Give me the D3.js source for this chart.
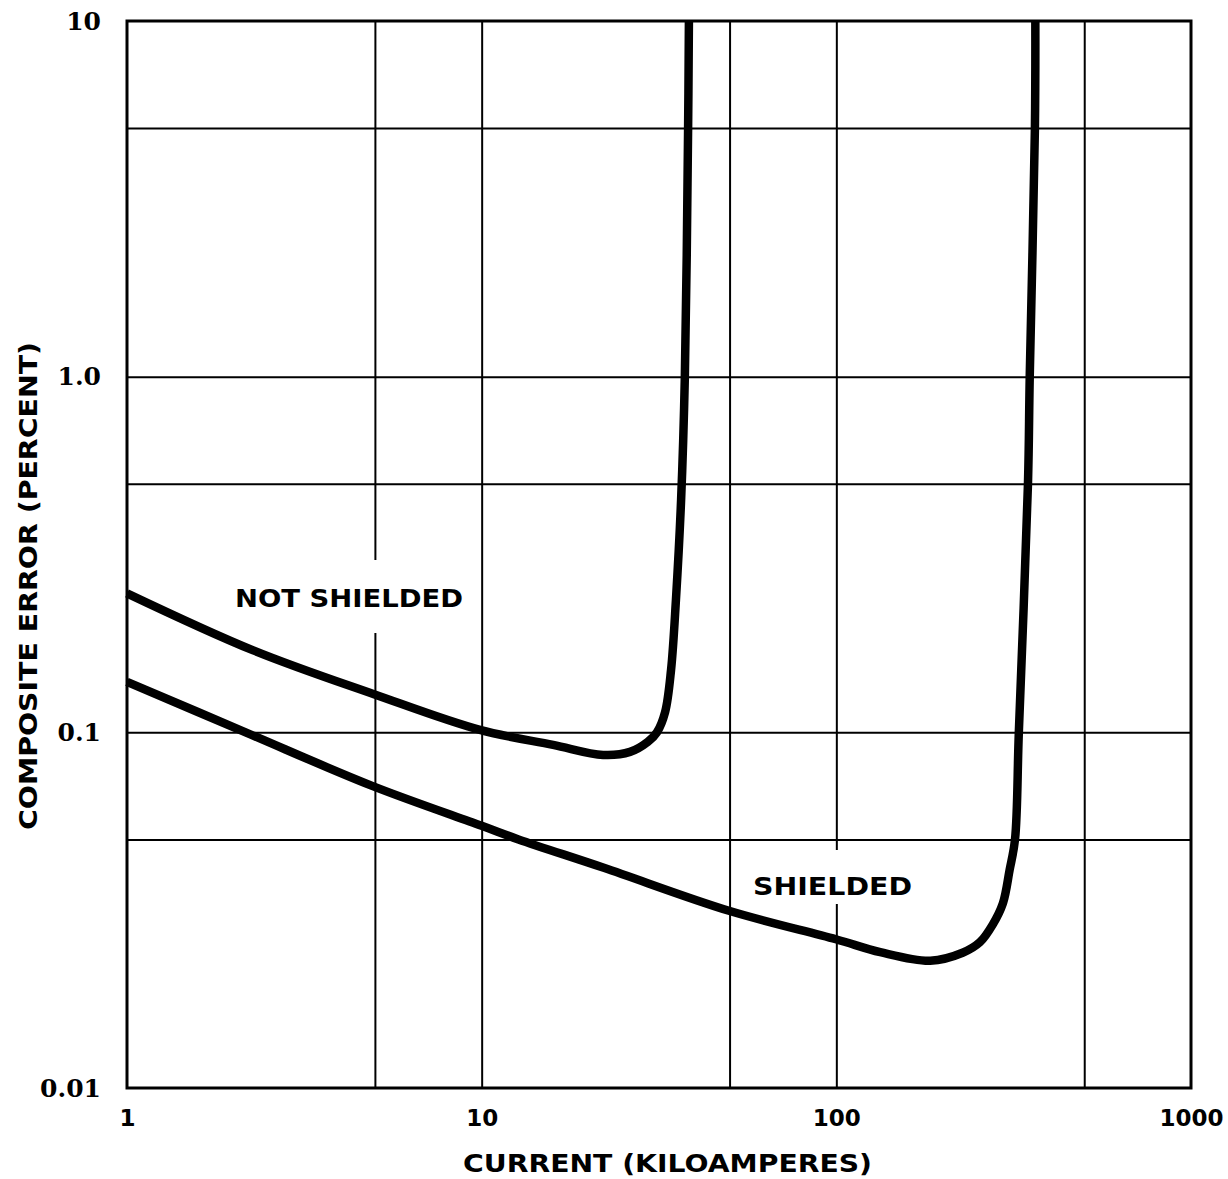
<!DOCTYPE html>
<html>
<head>
<meta charset="utf-8">
<script src="https://cdn.jsdelivr.net/npm/d3@7"></script>
<style>
  body { margin: 0; background: #fff; }
  svg { display: block; }
  .tick text { fill: #000; }
</style>
</head>
<body>
<div id="chart"></div>
<script>
// Size of the page
var w = 1228, h = 1179;
var margin = {top: 21, right: 37, bottom: 91, left: 127};
var width = w - margin.left - margin.right,
    height = h - margin.top - margin.bottom;

// Curves (current in kA, error in percent)
var notShieldedCurrent = [1, 2.27, 4.97, 9.89, 15.9, 22.0, 26.2, 29.4, 31.2, 32.9, 34.2, 35.3, 36.5, 37.4, 38.2, 38.4];
var notShieldedError   = [0.246, 0.170, 0.128, 0.1016, 0.0922, 0.0864, 0.0881, 0.094, 0.100, 0.114, 0.150, 0.236, 0.45, 1.0, 5.0, 10];

var shieldedCurrent = [1, 2.16, 4.91, 10, 12.7, 22.1, 49.8, 99.7, 133, 184, 227, 254, 276, 295, 308, 319, 327, 347, 351, 363, 364];
var shieldedError   = [0.1387, 0.100, 0.0707, 0.0546, 0.050, 0.0416, 0.0315, 0.0262, 0.0241, 0.0228, 0.0240, 0.0257, 0.0288, 0.0331, 0.041, 0.05, 0.1, 0.5, 1.0, 5.0, 10];

// Axis ticks and grid
var xTicks = [1, 10, 100, 1000];
var xTickLabels = ["1", "10", "100", "1000"];
var yTicks = [0.01, 0.1, 1, 10];
var yTickLabels = ["0.01", "0.1", "1.0", "10"];
var xGrid = [5, 10, 50, 100, 500];
var yGrid = [0.05, 0.1, 0.5, 1, 5];

var svg = d3.select("#chart")
            .append("svg")
            .attr("width", w)
            .attr("height", h);

var g = svg.append("g")
           .attr("transform", "translate(" + margin.left + "," + margin.top + ")");

var x = d3.scaleLog().domain([1, 1000]).range([0, width]);
var y = d3.scaleLog().domain([0.01, 10]).range([height, 0]);

// Grid lines
var grid = g.append("g");
grid.append("g")
    .attr("transform", "translate(0," + height + ")")
    .call(d3.axisBottom(x).tickValues(xGrid).tickSize(-height).tickFormat(""))
    .call(function(a) { a.select(".domain").remove(); })
    .selectAll("line").attr("stroke", "#000").attr("stroke-width", 2);
grid.append("g")
    .call(d3.axisLeft(y).tickValues(yGrid).tickSize(-width).tickFormat(""))
    .call(function(a) { a.select(".domain").remove(); })
    .selectAll("line").attr("stroke", "#000").attr("stroke-width", 2);

// White patches behind the curve labels (the grid is broken there)
g.append("rect").attr("x", 225 - margin.left).attr("y", 560 - margin.top)
    .attr("width", 245).attr("height", 73).attr("fill", "#fff");
g.append("rect").attr("x", 745 - margin.left).attr("y", 850 - margin.top)
    .attr("width", 175).attr("height", 54).attr("fill", "#fff");

// Frame
g.append("rect")
    .attr("width", width).attr("height", height)
    .attr("fill", "none").attr("stroke", "#000").attr("stroke-width", 3);

// Curves
var line = d3.line()
    .x(function(d) { return x(d[0]); })
    .y(function(d) { return y(d[1]); })
    .curve(d3.curveCatmullRom.alpha(0.5));

var curves = [
  d3.zip(notShieldedCurrent, notShieldedError),
  d3.zip(shieldedCurrent, shieldedError)
];

g.selectAll(".curve")
  .data(curves)
  .enter().append("path")
  .attr("class", "curve")
  .attr("fill", "none")
  .attr("stroke", "#000")
  .attr("stroke-width", 8.5)
  .attr("stroke-linejoin", "round")
  .attr("d", line);

// Tick labels
var xAxis = g.append("g")
    .attr("transform", "translate(0," + height + ")")
    .call(d3.axisBottom(x).tickValues(xTicks).tickSize(0)
          .tickFormat(function(d, i) { return xTickLabels[i]; }));
xAxis.select(".domain").remove();
xAxis.selectAll("text")
    .attr("y", 38).attr("dy", null)
    .style("font-family", "'DejaVu Sans'").style("font-weight", "bold").style("font-size", "23px");

var yAxis = g.append("g")
    .call(d3.axisLeft(y).tickValues(yTicks).tickSize(0).tickPadding(26)
          .tickFormat(function(d, i) { return yTickLabels[i]; }));
yAxis.select(".domain").remove();
yAxis.selectAll("text")
    .style("font-family", "'DejaVu Serif'").style("font-weight", "bold").style("font-size", "25px");

// Curve labels
svg.append("text").text("NOT SHIELDED")
    .attr("x", 235).attr("y", 607)
    .attr("textLength", 228).attr("lengthAdjust", "spacingAndGlyphs")
    .style("font-family", "'DejaVu Sans'").style("font-weight", "bold").style("font-size", "25px");
svg.append("text").text("SHIELDED")
    .attr("x", 753).attr("y", 895)
    .attr("textLength", 159).attr("lengthAdjust", "spacingAndGlyphs")
    .style("font-family", "'DejaVu Sans'").style("font-weight", "bold").style("font-size", "25px");

// Axis titles
svg.append("text").text("CURRENT (KILOAMPERES)")
    .attr("x", 463).attr("y", 1172)
    .attr("textLength", 409).attr("lengthAdjust", "spacingAndGlyphs")
    .style("font-family", "'DejaVu Sans'").style("font-weight", "bold").style("font-size", "24px");
svg.append("text").text("COMPOSITE ERROR (PERCENT)")
    .attr("transform", "translate(37,830) rotate(-90)")
    .attr("textLength", 488).attr("lengthAdjust", "spacingAndGlyphs")
    .style("font-family", "'DejaVu Sans'").style("font-weight", "bold").style("font-size", "24px");
</script>
</body>
</html>
